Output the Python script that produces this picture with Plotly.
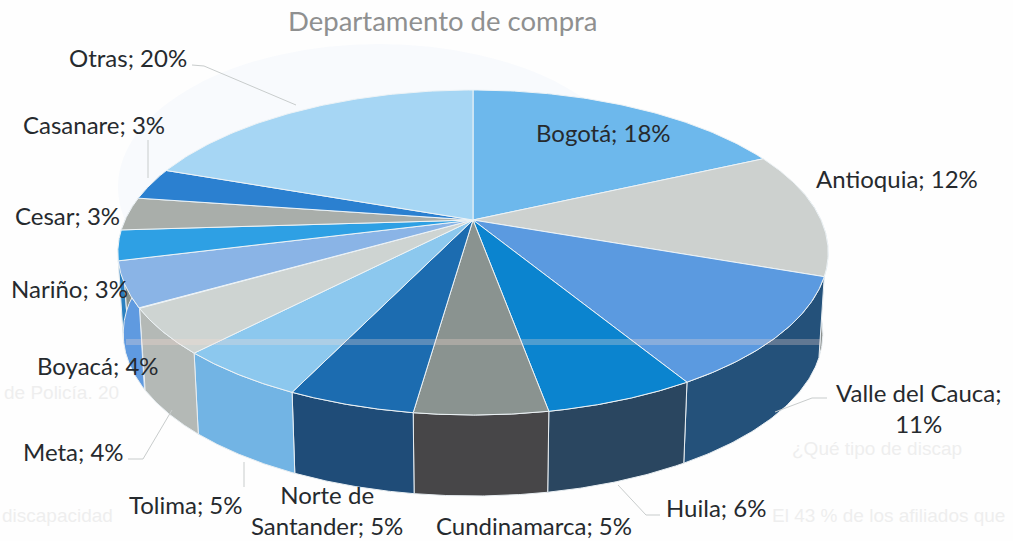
import numpy as np
import plotly.graph_objects as go

CATEGORIES = ["Bogotá", "Antioquia", "Valle del Cauca", "Huila", "Cundinamarca",
              "Norte de Santander", "Tolima", "Meta", "Boyacá", "Nariño", "Cesar",
              "Casanare", "Otras"]
VALUES = [18.0, 12.5, 11.0, 5.7, 5.0, 4.8, 5.0, 4.5, 4.5, 3.0, 3.3, 3.2, 19.5]
TOP_COLORS = ["#6db8ec", "#cdd1cf", "#5b9ae0", "#0b84cf", "#8a9390", "#1c6cb0", "#8cc8ee",
              "#ced4d2", "#8ab4e6", "#2ea0e4", "#a9aeaa", "#2b80d0", "#a6d6f4"]
WALL_COLORS = ["#4a86b8", "#8c908e", "#24517a", "#2a4660", "#474648", "#1f4c78", "#72b4e4",
               "#b4b9b6", "#5f9ae0", "#2a80c0", "#85908c", "#1f60a0", "#80a8c8"]
LABEL_TEXT = ["Bogotá; 18%", "Antioquia; 12%", "Valle del Cauca;<br>11%", "Huila; 6%",
              "Cundinamarca; 5%", "Norte de<br>Santander; 5%", "Tolima; 5%", "Meta; 4%",
              "Boyacá; 4%", "Nariño; 3%", "Cesar; 3%", "Casanare; 3%", "Otras; 20%"]
LABEL_POS = [(603, 132), (897, 178), (918, 408), (716, 507), (534, 525), (327, 510),
             (186, 504), (73, 451), (98, 365), (69, 288), (67, 215), (94, 124), (128, 57)]
TITLE = "Departamento de compra"
FONT = "Lato"
FAINT_TEXT = ["¿Qué tipo de discap", "El 43 % de los afiliados que", "discapacidad", "de Policía. 20"]
FAINT_X = [792, 772, 2, 4]
FAINT_Y = [450, 517, 517, 394]

# projection of the pie disc onto the page
CX, CY = 473, 220
A, K, P = 348, 156, -0.2
DEPTH, SHRINK = 81, 0.985


def project(theta, bottom=False):
    sx, sy = np.sin(theta), -np.cos(theta)
    w = 1 + P * sy
    x, y = A * sx / w, K * sy / w
    if bottom:
        return CX + x * SHRINK, CY + y + DEPTH
    return CX + x, CY + y


fractions = np.array(VALUES) / sum(VALUES)
edges = np.concatenate([[0], np.cumsum(fractions)]) * 2 * np.pi

fig = go.Figure()
fig.add_trace(go.Scatter(x=FAINT_X, y=FAINT_Y, text=FAINT_TEXT, mode="text", textposition="middle right",
                         textfont=dict(family="Liberation Sans", size=19, color="#eeeeee"), hoverinfo="skip"))
# side walls, drawn first so the top faces cover what is hidden
for i in range(len(VALUES)):
    a0, a1 = max(edges[i], np.pi * 0.42), min(edges[i + 1], np.pi * 1.6)
    if a1 <= a0:
        continue
    t = np.linspace(a0, a1, 60)
    xt, yt = project(t)
    xb, yb = project(t[::-1], True)
    fig.add_trace(go.Scatter(x=np.r_[xt, xb, xt[0]], y=np.r_[yt, yb, yt[0]], mode="lines",
                             fill="toself", fillcolor=WALL_COLORS[i],
                             line=dict(color="#e8eef2", width=1), hoverinfo="skip"))
# top faces
for i in range(len(VALUES)):
    t = np.linspace(edges[i], edges[i + 1], 80)
    xt, yt = project(t)
    fig.add_trace(go.Scatter(x=np.r_[CX, xt, CX], y=np.r_[CY, yt, CY], mode="lines",
                             fill="toself", fillcolor=TOP_COLORS[i],
                             line=dict(color="#edf3f6", width=1), hoverinfo="skip"))

annotations = [dict(x=x, y=y, text=s, showarrow=False, xanchor="center", yanchor="middle",
                    font=dict(family=FONT, size=24, color="#262a2e"), align="center")
               for s, (x, y) in zip(LABEL_TEXT, LABEL_POS)]
annotations.append(dict(x=443, y=20, text=TITLE, showarrow=False,
                        font=dict(family=FONT, size=27.5, color="#8f9090")))

leader = dict(color="#c8cccc", width=1)
shapes = [
    dict(type="circle", x0=118, x1=640, y0=44, y1=330, fillcolor="#f8fafd", line_width=0, layer="below"),
]
for pts in [[(192, 65), (204, 66), (296, 105)], [(148, 140), (148, 178)],
            [(827, 398), (812, 398), (775, 412)], [(618, 485), (646, 515), (660, 515)],
            [(128, 459), (143, 459), (172, 410)], [(244, 462), (244, 487)]]:
    path = "M " + " L ".join("%d,%d" % p for p in pts)
    shapes.append(dict(type="path", path=path, line=leader, layer="above"))
shapes.append(dict(type="line", x0=126, x1=820, y0=342, y1=342, layer="above",
                   line=dict(color="rgba(255,222,212,0.28)", width=6)))

fig.update_layout(
    width=1013, height=541, margin=dict(l=0, r=0, t=0, b=0), showlegend=False,
    paper_bgcolor="#fefefe", plot_bgcolor="#fefefe",
    xaxis=dict(range=[0, 1013], visible=False, fixedrange=True),
    yaxis=dict(range=[541, 0], visible=False, fixedrange=True),
    annotations=annotations, shapes=shapes,
)
fig.write_html("out.html", config={"displayModeBar": False},
               post_script="document.body.style.margin='0';")
